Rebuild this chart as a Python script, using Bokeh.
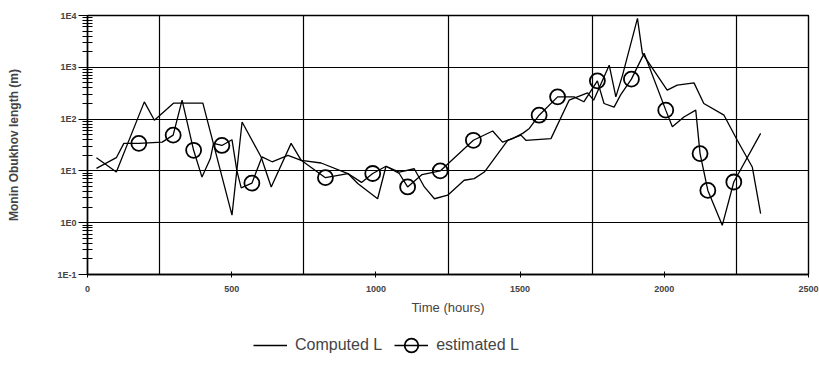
from bokeh.plotting import figure
from bokeh.layouts import column
from bokeh.models import (Range1d, FixedTicker, CustomJSTickFormatter, Legend, LegendItem)
from bokeh.embed import file_html
from bokeh.resources import INLINE

# ---- data ----
computed_t = [31, 100, 197, 232, 298, 400, 501, 536, 602, 637, 706, 741, 810, 903, 937,
              1006, 1035, 1081, 1133, 1168, 1203, 1249, 1306, 1341, 1376, 1457, 1503, 1520,
              1607, 1670, 1734, 1755, 1809, 1832, 1855, 1907, 1924, 2010, 2045, 2103, 2137,
              2207, 2253, 2305, 2334]
computed_L = [18, 9.5, 215, 95, 203, 203, 1.4, 88, 18.6, 4.9, 34, 16, 14.2, 8.9, 5.7,
              2.9, 12.3, 9.5, 11, 4.9, 2.9, 3.4, 6.6, 7.1, 9.5, 39, 49, 39,
              42, 232, 321, 232, 1100, 268, 700, 8800, 1860, 362, 453, 500, 200,
              119, 39, 11.9, 1.5]

estimated_t = [31, 100, 126, 178, 259, 297, 328, 368, 397, 426, 437, 466, 501, 518, 533,
               570, 605, 640, 695, 741, 825, 903, 950, 989, 1035, 1081, 1110, 1160, 1223,
               1338, 1405, 1439, 1474, 1509, 1532, 1566, 1630, 1687, 1721, 1768, 1791, 1826,
               1849, 1886, 1930, 2005, 2028, 2068, 2109, 2124, 2151, 2201, 2241, 2334]
estimated_L = [11.2, 18, 34, 34, 36, 49, 232, 25, 7.6, 17.3, 34, 31, 40, 10, 4.7,
               5.8, 18.6, 15, 20, 16, 7.4, 8.9, 6, 8.9, 12.3, 8.9, 4.9, 8.5, 10,
               39, 59, 36, 42, 53, 66, 119, 269, 268, 216, 548, 200, 170,
               297, 591, 1860, 149, 71, 110, 149, 21.6, 4.2, 0.89, 6.1, 53]
# indices of estimated points drawn with a circle marker
marker_idx = [3, 5, 7, 11, 15, 20, 23, 26, 28, 29, 35, 36, 39, 43, 45, 49, 50, 52]

series_labels = ["Computed L", "estimated L"]
x_ticks = [0, 500, 1000, 1500, 2000, 2500]
x_grid = [250, 750, 1250, 1750, 2250]
y_ticks = [0.1, 1, 10, 100, 1000, 10000]
y_tick_labels = ["1E-1", "1E0", "1E1", "1E2", "1E3", "1E4"]
y_minor = [m * d for d in [0.1, 1, 10, 100, 1000] for m in range(2, 10)]

FONT = "Liberation Sans"

p = figure(width=819, height=320, y_axis_type="log",
           x_range=Range1d(0, 2500), y_range=Range1d(0.1, 10000),
           output_backend="svg", toolbar_location=None,
           min_border_left=87, min_border_right=11, min_border_top=15, min_border_bottom=46)
p.background_fill_color = "white"
p.border_fill_color = "white"
p.outline_line_color = "black"
p.outline_line_width = 1.4

# grid
p.xgrid.ticker = FixedTicker(ticks=x_grid)
p.ygrid.ticker = FixedTicker(ticks=y_ticks)
for g in (p.xgrid, p.ygrid):
    g.grid_line_color = "black"
    g.grid_line_width = 1.2

# x axis
xa = p.xaxis[0]
xa.ticker = FixedTicker(ticks=x_ticks)
xa.axis_label = "Time (hours)"
xa.axis_label_text_font = FONT
xa.axis_label_text_font_size = "13px"
xa.axis_label_text_font_style = "normal"
xa.axis_label_standoff = 5
xa.major_label_text_font = FONT
xa.major_label_text_font_size = "9px"
xa.major_label_text_font_style = "bold"
xa.major_label_standoff = 8
xa.major_tick_in = 3
xa.major_tick_out = 3
xa.minor_tick_line_color = None
xa.axis_line_color = "black"
xa.axis_line_width = 1.4
xa.major_tick_line_color = "black"

# y axis
ya = p.yaxis[0]
ya.ticker = FixedTicker(ticks=y_ticks, minor_ticks=y_minor)
ya.formatter = CustomJSTickFormatter(args=dict(labels=y_tick_labels),
                                     code="return labels[Math.round(Math.log10(tick)) + 1];")
ya.axis_label = "Monin Obukhov length (m)"
ya.axis_label_text_font = FONT
ya.axis_label_text_font_size = "12px"
ya.axis_label_text_font_style = "bold"
ya.axis_label_standoff = 33
ya.major_label_text_font = FONT
ya.major_label_text_font_size = "9px"
ya.major_label_text_font_style = "bold"
ya.major_label_standoff = 2
ya.major_tick_in = 5
ya.major_tick_out = 9
ya.minor_tick_in = 5
ya.minor_tick_out = 5
ya.axis_line_color = "black"
ya.axis_line_width = 1.4
ya.major_tick_line_color = "black"
ya.minor_tick_line_color = "black"
ya.minor_tick_line_width = 1.2

# series
line_style = dict(line_color="black", line_width=1.3)
marker_style = dict(marker="circle", size=15, fill_color=None, line_color="black", line_width=1.8)
mk_t = [estimated_t[i] for i in marker_idx]
mk_L = [estimated_L[i] for i in marker_idx]
p.line(computed_t, computed_L, **line_style)
p.line(estimated_t, estimated_L, **line_style)
p.scatter(mk_t, mk_L, **marker_style)

# legend strip below the chart: same series, but its ranges show none of them,
# so only the legend keys are visible
lg = figure(width=819, height=46, x_range=Range1d(-2, -1), y_range=Range1d(-2, -1),
            output_backend="svg", toolbar_location=None,
            x_axis_location=None, y_axis_location=None, min_border=0)
lg.grid.visible = False
lg.outline_line_color = None
lg.background_fill_color = "white"
lg.border_fill_color = "white"
k1 = lg.line(computed_t, computed_L, **line_style)
k2 = lg.line(estimated_t, estimated_L, **line_style)
k3 = lg.scatter(mk_t, mk_L, **marker_style)

legend = Legend(items=[LegendItem(label=series_labels[0], renderers=[k1]),
                       LegendItem(label=series_labels[1], renderers=[k2, k3])],
                orientation="horizontal", location=(166, 4),
                glyph_width=34, glyph_height=34, label_standoff=8, spacing=12,
                padding=0, margin=0,
                label_text_font=FONT, label_text_font_size="16px",
                border_line_color=None, background_fill_alpha=0)
lg.add_layout(legend, "center")

layout = column(p, lg, spacing=0)
open("out.html", "w").write(file_html(layout, INLINE))
